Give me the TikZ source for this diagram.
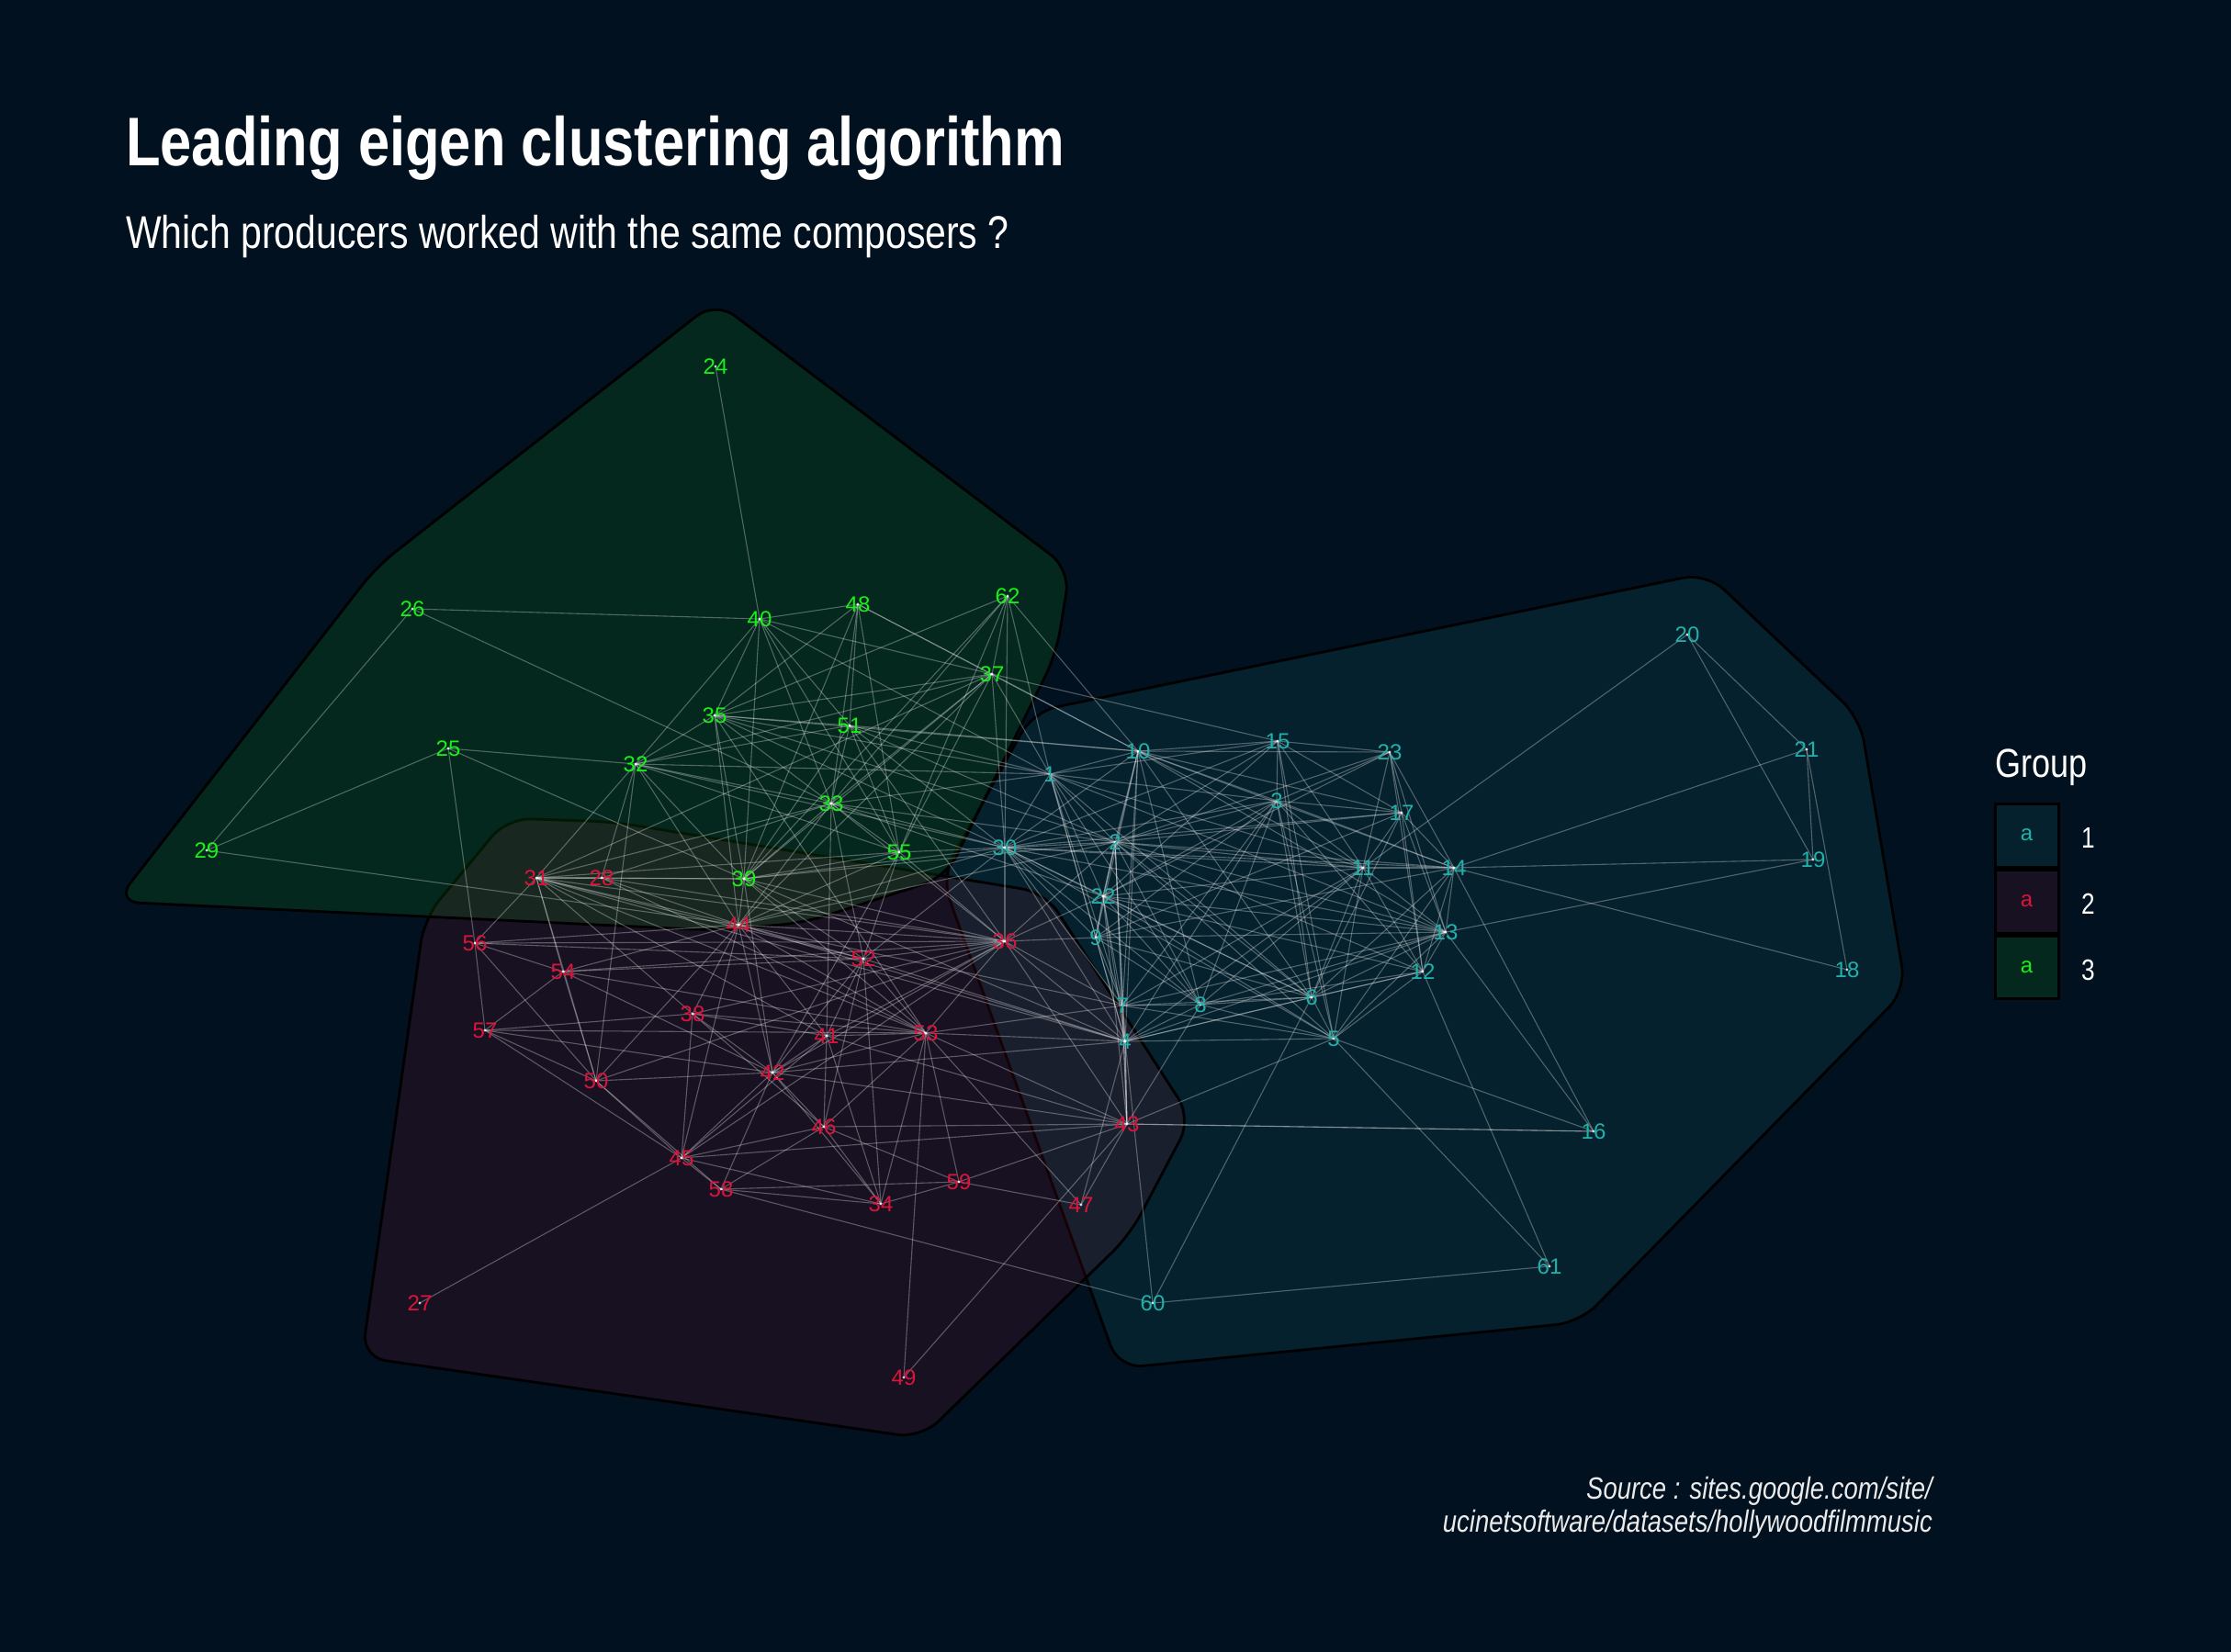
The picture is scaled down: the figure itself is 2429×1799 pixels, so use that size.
\documentclass[tikz,border=0pt]{standalone}
\usepackage{fontspec}
\setmainfont{Liberation Sans}
\newfontfamily\narrowfont{Liberation Sans}[FakeStretch=0.82]
\definecolor{bg}{RGB}{2,17,31}
\definecolor{cteal}{RGB}{32,178,170}
\definecolor{cred}{RGB}{220,20,60}
\definecolor{cgreen}{RGB}{25,240,25}
\definecolor{srcgray}{RGB}{235,235,235}
\begin{document}
\begin{tikzpicture}[x=1pt,y=-1pt,
  hull/.style={draw=black,line width=2.8pt,rounded corners=26pt,fill opacity=0.1,draw opacity=1},
  edge/.style={draw=white,draw opacity=0.3,line width=1.1pt},
  lab/.style={inner sep=0pt,font=\fontsize{24}{24}\selectfont},
  legbox/.style={draw=black,line width=3pt,fill opacity=0.1,draw opacity=1},
  legtxt/.style={inner sep=0pt,anchor=base west,text=white,font=\narrowfont\fontsize{32}{36}\selectfont}]
\useasboundingbox (0,0) rectangle (2429,1799);
\fill[bg] (0,0) rectangle (2429,1799);

% positions
\foreach \i/\x/\y in {1/1143/843,2/1214/917,3/1390/872,4/1225/1134,5/1452/1131,6/1428/1086,
  7/1222/1095,8/1307/1094,9/1193/1021,10/1239/818,11/1484/945,12/1549/1058,13/1574/1015,
  14/1583/945,15/1391/807,16/1735/1232,17/1526/885,18/2011/1056,19/1974/936,20/1837/691,
  21/1967/816,22/1201/976,23/1513/819,24/779/399,25/488/815,26/449/663,27/457/1419,
  28/655/956,29/225/926,30/1094/923,31/584/956,32/692/832,33/905/875,34/959/1311,
  35/778/779,36/1094/1025,37/1080/734,38/754/1104,39/810/957,40/827/674,41/900/1128,
  42/841/1168,43/1227/1224,44/804/1007,45/742/1261,46/897/1227,47/1177/1312,48/934/658,
  49/984/1500,50/649/1177,51/925/790,52/940/1044,53/1008/1125,54/613/1058,55/979/928,
  56/517/1027,57/528/1122,58/785/1295,59/1044/1287,60/1255/1419,61/1687/1379,62/1097/649}
  \coordinate (p\i) at (\x,\y);

% hulls
\draw[hull,fill=cteal] (1125,775) -- (1858,624) -- (2025,782) -- (2075,1078) -- (1720,1440)
  -- (1218,1490) -- (1025,955) -- cycle;
\draw[hull,fill=cred] (552,891) -- (668,895) -- (1138,972) -- (1297,1218) -- (1230,1345)
  -- (1003,1566) -- (394,1478) -- (462,1000) -- cycle;
\draw[hull,fill=cgreen] (779,328) -- (1165,620) -- (1150,712) -- (1030,955) -- (875,1005)
  -- (775,1013) -- (126,982) -- (410,617) -- cycle;

% edges
\foreach \a/\b in {24/40,26/40,26/29,26/33,25/29,25/32,25/56,25/39,29/44,
  40/48,40/35,40/32,40/37,40/33,40/39,40/51,40/55,40/1,
  48/37,48/35,48/51,48/33,48/39,48/10,48/55,
  62/35,62/37,62/33,62/30,62/55,62/1,62/39,62/10,
  37/1,37/10,37/30,37/32,37/33,37/35,37/39,37/44,37/55,37/31,
  35/51,35/33,35/32,35/39,35/44,35/30,35/10,35/2,35/53,
  51/33,51/32,51/39,51/1,51/10,51/30,51/55,51/2,51/36,
  32/33,32/39,32/31,32/44,32/1,32/30,32/55,32/50,32/28,
  33/39,33/55,33/31,33/44,33/30,33/1,33/2,33/36,33/52,33/28,33/22,33/41,
  55/39,55/30,55/44,55/31,55/36,55/52,55/42,
  39/31,39/28,39/44,39/30,39/2,39/36,39/52,39/53,39/42,39/4}
  \draw[edge] (p\a) -- (p\b);
\foreach \a/\b in {31/28,31/44,31/56,31/54,31/38,31/52,31/41,31/53,31/36,31/50,31/4,
  28/44,28/36,28/53,
  44/56,44/54,44/52,44/36,44/38,44/42,44/41,44/53,44/50,44/45,44/4,44/7,
  56/54,56/57,56/36,56/52,56/50,
  54/52,54/36,54/50,54/53,54/42,54/57,
  52/36,52/53,52/41,52/42,52/46,52/34,52/4,
  36/53,36/41,36/42,36/4,36/7,36/9,36/22,36/2,36/30,36/43,36/50,36/45,
  38/53,38/42,38/41,38/45,38/46,38/57,38/36,
  57/53,57/50,57/42,57/45,
  41/53,41/42,41/46,41/45,41/34,41/43,
  53/42,53/46,53/34,53/59,53/43,53/4,53/7,53/47,
  50/42,50/45,50/58,
  42/46,42/45,42/58,42/34,42/43,42/4,
  46/34,46/45,46/58,46/43,46/59,
  43/59,43/47,43/45,43/4,43/16,
  45/58,45/34,45/27,58/34,58/59,58/60,34/59,59/47,47/4,49/53,49/43,
  30/44,30/52,2/44,43/22,43/2,1/35}
  \draw[edge] (p\a) -- (p\b);
\foreach \a/\b in {20/21,20/19,20/11,21/19,21/18,21/14,19/14,19/13,18/14,
  15/10,15/23,15/3,15/17,15/1,15/2,15/11,15/6,15/5,15/22,15/30,15/37,
  10/1,10/3,10/17,10/2,10/30,10/11,10/14,10/7,10/8,10/22,10/9,10/4,10/13,10/6,10/23,
  23/3,23/17,23/11,23/14,23/13,23/12,23/2,23/22,
  1/30,1/2,1/3,1/22,1/9,1/7,1/4,1/11,1/8,1/6,1/13,
  3/17,3/2,3/11,3/14,3/22,3/5,3/6,3/7,3/8,3/9,3/4,3/30,3/12,
  17/11,17/14,17/13,17/12,17/2,17/30,17/6,17/9,
  30/2,30/22,30/9,30/7,30/4,30/11,30/8,30/14,30/13,30/6,30/5,
  2/22,2/9,2/11,2/14,2/7,2/4,2/8,2/6,2/5,2/13,2/12,
  11/14,11/13,11/12,11/6,11/5,11/8,11/22,11/7,11/4,
  14/13,14/12,14/6,14/5,14/16,14/9,
  22/9,22/7,22/4,22/8,22/13,22/12,22/6,22/5,
  9/7,9/4,9/8,9/13,9/6,
  13/12,13/6,13/5,13/8,13/7,13/4,13/16,
  12/6,12/5,12/8,12/4,12/61,
  6/7,6/8,6/5,6/4,6/60,
  7/8,7/4,7/5,7/43,8/4,8/5,8/43,4/5,4/43,4/60,
  5/16,5/61,5/43,60/61,16/43}
  \draw[edge] (p\a) -- (p\b);

% node points
\foreach \i in {1,...,62} \fill[white,opacity=0.75] (p\i) circle (1.6pt);

% labels
\foreach \i in {1,...,23,30,60,61} \node[lab,text=cteal] (l\i) at (p\i) {\i};
\foreach \i in {27,28,31,34,36,38,41,42,43,44,45,46,47,49,50,52,53,54,56,57,58,59}
  \node[lab,text=cred] (l\i) at (p\i) {\i};
\foreach \i in {24,25,26,29,32,33,35,37,39,40,48,51,55,62}
  \node[lab,text=cgreen] (l\i) at (p\i) {\i};

% titles
\node[anchor=base west,inner sep=0pt,text=white,font=\narrowfont\bfseries\fontsize{75}{80}\selectfont]
  (title) at (137,180) {Leading eigen clustering algorithm};
\node[anchor=base west,inner sep=0pt,text=white,font=\narrowfont\fontsize{50}{56}\selectfont]
  (subtitle) at (137,270) {Which producers worked with the same composers ?};

% legend
\node[anchor=base west,inner sep=0pt,text=white,font=\narrowfont\fontsize{44}{50}\selectfont]
  (legtitle) at (2172,846) {Group};
\draw[legbox,fill=cteal] (2172,875) rectangle (2241,944);
\draw[legbox,fill=cred] (2172,947) rectangle (2241,1016);
\draw[legbox,fill=cgreen] (2172,1019) rectangle (2241,1087);
\node[lab,text=cteal] (ka) at (2206.5,909.5) {a};
\node[lab,text=cred] (kb) at (2206.5,981.5) {a};
\node[lab,text=cgreen] (kc) at (2206.5,1053) {a};
\node[legtxt] (k1) at (2266,923) {1};
\node[legtxt] (k2) at (2266,995) {2};
\node[legtxt] (k3) at (2266,1067) {3};

% source
\node[anchor=base east,inner sep=0pt,text=srcgray,font=\narrowfont\itshape\fontsize{33.5}{38}\selectfont]
  (src1) at (2104,1632) {Source : sites.google.com/site/};
\node[anchor=base east,inner sep=0pt,text=srcgray,font=\narrowfont\itshape\fontsize{33.5}{38}\selectfont]
  (src2) at (2104,1668) {ucinetsoftware/datasets/hollywoodfilmmusic};
\end{tikzpicture}
\end{document}
